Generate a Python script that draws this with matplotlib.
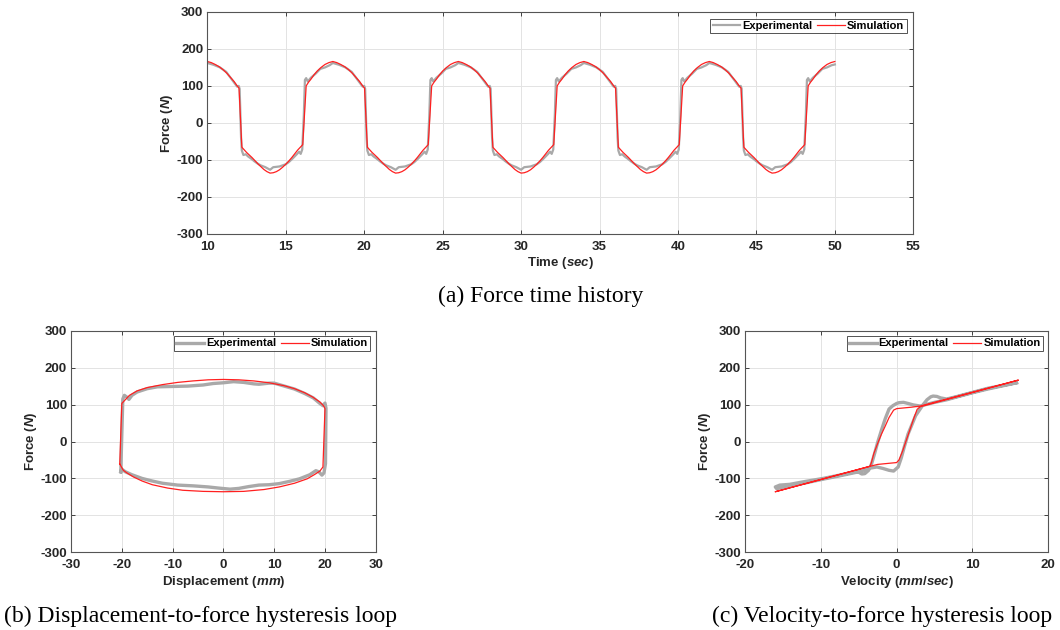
import numpy as np
import matplotlib
matplotlib.use("Agg")
import matplotlib.pyplot as plt

plt.rcParams['font.family'] = ['Liberation Sans', 'DejaVu Sans']
plt.rcParams['font.weight'] = 'bold'
plt.rcParams['axes.labelweight'] = 'bold'
plt.rcParams['axes.unicode_minus'] = False
plt.rcParams['mathtext.fontset'] = 'custom'
plt.rcParams['mathtext.it'] = 'Liberation Sans:italic:bold'
plt.rcParams['mathtext.rm'] = 'Liberation Sans:bold'

# one loading cycle (8 s) of the force record, time relative to cycle start
CYCLE_T_EXP = [0.0, 0.4, 0.8, 1.2, 1.6, 1.8, 1.9, 2.0, 2.06, 2.15, 2.2, 2.3, 2.45, 2.6,
               2.8, 3.0, 3.2, 3.4, 3.7, 4.0, 4.2, 4.6, 5.0, 5.2, 5.4, 5.7, 5.85, 5.95,
               6.05, 6.15, 6.22, 6.3, 6.4, 6.6, 6.9, 7.2, 7.5, 7.8]
CYCLE_F_EXP = [162, 157, 150, 138, 115, 103, 98, 100, 92, -40, -75, -87, -85, -91,
               -97, -104, -110, -115, -120, -127, -120, -118, -112, -106, -98, -85,
               -78, -84, -72, 20, 116, 121, 112, 122, 133, 146, 150, 156]
CYCLE_T_SIM = [0.0, 0.25, 0.5, 0.75, 1.0, 1.25, 1.5, 1.7, 1.9, 2.02, 2.2, 2.35, 2.5,
               2.65, 2.85, 3.05, 3.25, 3.45, 3.6, 3.8, 4.0, 4.2, 4.4, 4.6, 4.8, 5.0,
               5.2, 5.4, 5.6, 5.75, 5.9, 6.08, 6.3, 6.45, 6.6, 6.8, 7.0, 7.25, 7.5,
               7.75]
CYCLE_F_SIM = [166, 163, 158, 152, 144, 134, 122, 112, 100, 94, -66, -73, -80,
               -86, -94, -103, -112, -120, -126, -132, -136, -135, -132, -127, -120,
               -112, -103, -93, -82, -74, -67, -59, 100, 110, 118, 130, 140, 150, 158,
               163]
T_START, PERIOD, N_CYCLES = 10.0, 8.0, 5
T_END, F_END_EXP, F_END_SIM = 50.0, 158, 166

# displacement-force loop (mm, N)
DISP_EXP = [-20.2, -20.0, -19.8, -19.5, -19.0, -18.6, -18.0, -17.0, -15.0, -13.0,
            -10.0, -7.0, -4.0, -2.0, 0.0, 2.0, 4.0, 6.0, 7.0, 9.0, 10.0, 12.0, 14.0,
            16.0, 17.7, 19.0, 19.6, 20.0, 20.2, 20.1, 19.8, 19.4, 18.8, 18.2, 17.0,
            15.0, 13.0, 11.0, 9.0, 7.0, 5.0, 3.0, 1.3, -1.0, -3.0, -6.0, -9.0,
            -12.0, -14.0, -16.0, -18.0, -19.3, -20.0, -20.2]
FORCE_DISP_EXP = [-82, 20, 115, 125, 120, 114, 125, 134, 143, 148,
                  149, 150, 153, 157, 159, 162, 160, 156, 155, 158, 158, 150, 142,
                  130, 118, 103, 97, 104, 90, -60, -85, -91, -82, -79, -90,
                  -101, -108, -114, -117, -118, -122, -127, -129, -126, -123, -120, -118,
                  -113, -107, -100, -90, -82, -75, -82]
DISP_SIM = [-20.4, -20.0, -18.5, -17.0, -15.0, -12.0, -9.0, -6.0, -3.0, 0.0, 3.0, 6.0,
            9.0, 12.0, 14.0, 16.0, 17.5, 19.0, 19.7, 20.0, 19.6, 19.0, 18.0, 16.5,
            14.0, 11.0, 8.0, 4.0, 0.0, -4.0, -8.0, -11.0, -14.0, -16.0, -17.7, -19.0,
            -19.7, -20.4]
FORCE_DISP_SIM = [-61, 103, 125, 137, 146, 154, 160, 164, 167, 168, 167, 164,
                  159, 151, 143, 132, 121, 107, 97, 89, -69, -80, -89, -101,
                  -113, -123, -130, -135, -136, -135, -132, -126, -117, -107, -96, -85,
                  -78, -61]

# velocity-force loop (mm/sec, N)
VEL_EXP = [15.8, 14.5, 12.0, 10.0, 8.0, 6.6, 5.0, 3.1, 2.2, 1.5, 0.9, 0.3, 0.0, -0.5,
           -1.0, -1.5, -2.0, -2.5, -2.9, -3.3, -3.7, -4.2, -4.6, -5.0, -5.5, -6.6,
           -8.0, -9.7, -12.0, -14.1, -15.4, -16.0, -15.8, -14.0, -12.0, -9.7, -8.0,
           -6.6, -5.0, -3.5, -2.6, -1.8, -1.0, -0.4, 0.2, 0.6, 1.0, 1.5, 2.0, 2.5,
           3.0, 3.5, 4.0, 4.5, 4.8, 5.3, 5.8, 6.6, 8.0, 10.0, 12.0, 14.5, 15.8]
FORCE_VEL_EXP = [159, 153, 142, 132, 121, 113, 106, 96, 99, 103, 106, 105, 103, 97,
                 88, 62, 31, -2, -32, -60, -78, -87, -88, -83, -82, -87,
                 -93, -100, -108, -116, -118, -123, -128, -119, -112, -102, -95,
                 -89, -82, -72, -69, -73, -78, -80, -69, -45, -15, 20, 45, 70,
                 85, 100, 113, 121, 123, 122, 118, 115, 122, 133, 144, 154, 159]
VEL_SIM = [16.0, 3.1, 2.0, 1.0, 0.0, -0.4, -1.0, -1.5, -2.0, -2.5, -3.0, -3.3, -3.5,
           -16.0, -3.5, -2.5, -1.5, -0.5, 0.0, 0.3, 0.8, 1.3, 1.8, 2.3, 2.7, 3.1, 16.0]
FORCE_VEL_SIM = [166, 96, 93, 91, 89, 85, 65, 42, 20, -5, -32, -55, -67,
                 -136, -67, -62, -60, -58, -57, -50, -25, 5, 35, 65, 87, 94, 166]

EXP_COLOR = '#a9a9a9'
SIM_COLOR = '#ff2020'
AX_COLOR = '#262626'


def full_record(t_cyc, f_cyc, f_end):
    t = np.concatenate([T_START + k * PERIOD + np.array(t_cyc) for k in range(N_CYCLES)])
    f = np.concatenate([np.array(f_cyc, dtype=float) for _ in range(N_CYCLES)])
    return np.append(t, T_END), np.append(f, f_end)


def style_axes(ax, xlim, xticks):
    ax.set_xlim(*xlim)
    ax.set_ylim(-300, 300)
    ax.set_xticks(xticks)
    ax.set_yticks(np.arange(-300, 301, 100))
    ax.grid(True, color='#e3e3e3', lw=0.7)
    ax.set_axisbelow(True)
    ax.tick_params(direction='in', top=True, right=True, length=3, width=0.6,
                   colors=AX_COLOR, labelsize=9.5)
    ax.tick_params(axis='x', pad=5)
    ax.tick_params(axis='y', pad=3)
    for s in ax.spines.values():
        s.set_color('#555555')
        s.set_linewidth(0.8)
    ax.set_ylabel('Force ($\\mathit{N}$)', fontsize=9.5, color=AX_COLOR, labelpad=1)


def add_legend(ax, pad):
    leg = ax.legend(loc='upper right', ncol=2, fontsize=8, frameon=True, fancybox=False,
                    borderpad=0.2, handlelength=2.5, handletextpad=0.2,
                    columnspacing=0.4, borderaxespad=pad)
    leg.get_frame().set_edgecolor(AX_COLOR)
    leg.get_frame().set_linewidth(0.7)


fig = plt.figure(figsize=(10.6, 6.3), dpi=100)

# (a) force time history
ax1 = fig.add_axes([0.1956, 0.629, 0.666, 0.352])
t_exp, f_exp = full_record(CYCLE_T_EXP, CYCLE_F_EXP, F_END_EXP)
t_sim, f_sim = full_record(CYCLE_T_SIM, CYCLE_F_SIM, F_END_SIM)
ax1.plot(t_exp, f_exp, color=EXP_COLOR, lw=1.6, label='Experimental')
ax1.plot(t_sim, f_sim, color=SIM_COLOR, lw=0.9, label='Simulation')
style_axes(ax1, (10, 55), np.arange(10, 56, 5))
ax1.set_xlabel('Time ($\\mathit{sec}$)', fontsize=9.5, color=AX_COLOR, labelpad=2)
add_legend(ax1, 0.6)

# (b) displacement-force loop
ax2 = fig.add_axes([0.067, 0.1233, 0.2875, 0.3518])
ax2.plot(DISP_EXP, FORCE_DISP_EXP, color=EXP_COLOR, lw=2.4, label='Experimental')
ax2.plot(DISP_SIM, FORCE_DISP_SIM, color=SIM_COLOR, lw=0.9, label='Simulation')
style_axes(ax2, (-30, 30), np.arange(-30, 31, 10))
ax2.set_xlabel('Displacement ($\\mathit{mm}$)', fontsize=9.5, color=AX_COLOR, labelpad=2)
add_legend(ax2, 0.5)

# (c) velocity-force loop
ax3 = fig.add_axes([0.7028, 0.1233, 0.2862, 0.3518])
ax3.plot(VEL_EXP, FORCE_VEL_EXP, color=EXP_COLOR, lw=2.4, label='Experimental')
ax3.plot(VEL_SIM, FORCE_VEL_SIM, color=SIM_COLOR, lw=0.9, label='Simulation')
style_axes(ax3, (-20, 20), np.arange(-20, 21, 10))
ax3.set_xlabel('Velocity ($\\mathit{mm/sec}$)', fontsize=9.5, color=AX_COLOR, labelpad=2)
add_legend(ax3, 0.5)

cap = dict(family=['Liberation Serif', 'DejaVu Serif'], weight='normal', fontsize=17,
           color='black')
fig.text(0.510, 0.521, '(a) Force time history', ha='center', va='baseline', **cap)
fig.text(0.004, 0.0127, '(b) Displacement-to-force hysteresis loop', ha='left',
         va='baseline', **cap)
fig.text(0.993, 0.0127, '(c) Velocity-to-force hysteresis loop', ha='right',
         va='baseline', **cap)

fig.savefig('out.png', dpi=100, facecolor='white')
